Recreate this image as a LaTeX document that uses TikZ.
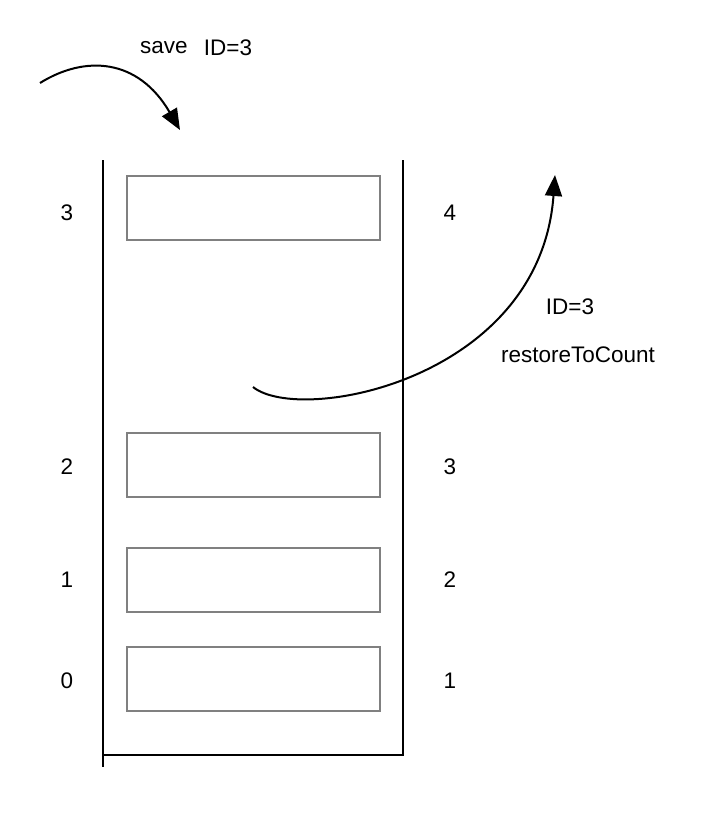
\documentclass[tikz,border=0pt]{standalone}
\usepackage{fontspec}
\setmainfont{Liberation Sans}
\usetikzlibrary{arrows.meta}
\begin{document}
\begin{tikzpicture}[x=1pt,y=-1pt,
  slot/.style={draw=black!50, line width=2pt, minimum width=253pt, minimum height=64pt, inner sep=0pt, anchor=north west},
  lbl/.style={font=\fontsize{22.5}{26}\selectfont, inner sep=0pt},
  wall/.style={line width=2.3pt, black},
  flow/.style={line width=2pt, -{Triangle[length=21pt,width=17pt]}}]
\useasboundingbox (0,0) rectangle (704,832);
% container
\coordinate (tl) at (103,160);
\coordinate (bl) at (103,767);
\coordinate (tr) at (403,160);
\coordinate (br) at (403,755);
\coordinate (bb) at (103,755);
\draw[wall] (tl) -- (bl);
\draw[wall] (tr) -- (br) -- (bb);
% slots
\node[slot] (s3) at (126,175) {};
\node[slot] (s2) at (126,432) {};
\node[slot] (s1) at (126,547) {};
\node[slot] (s0) at (126,646) {};
% labels
\node[lbl] (l3) at (67,213) {3};
\node[lbl] (l2) at (67,467) {2};
\node[lbl] (l1) at (67,580) {1};
\node[lbl] (l0) at (67,681) {0};
\node[lbl] (r4) at (450,213) {4};
\node[lbl] (r3) at (450,467) {3};
\node[lbl] (r2) at (450,580) {2};
\node[lbl] (r1) at (450,681) {1};
\node[lbl] (save) at (164,48) {save};
\node[lbl] (sid) at (228,48) {ID=3};
\node[lbl] (rid) at (570,307) {ID=3};
\node[lbl] (rtc) at (578,355) {restoreToCount};
% arrows
\coordinate (a0) at (40,83);
\coordinate (a1) at (180,130);
\draw[flow] (a0) .. controls (85,55) and (138,58) .. (a1);
\coordinate (b0) at (253,387);
\coordinate (b1) at (555,175);
\draw[flow] (b0) .. controls (300,425) and (540,380) .. (b1);
\end{tikzpicture}
\end{document}
